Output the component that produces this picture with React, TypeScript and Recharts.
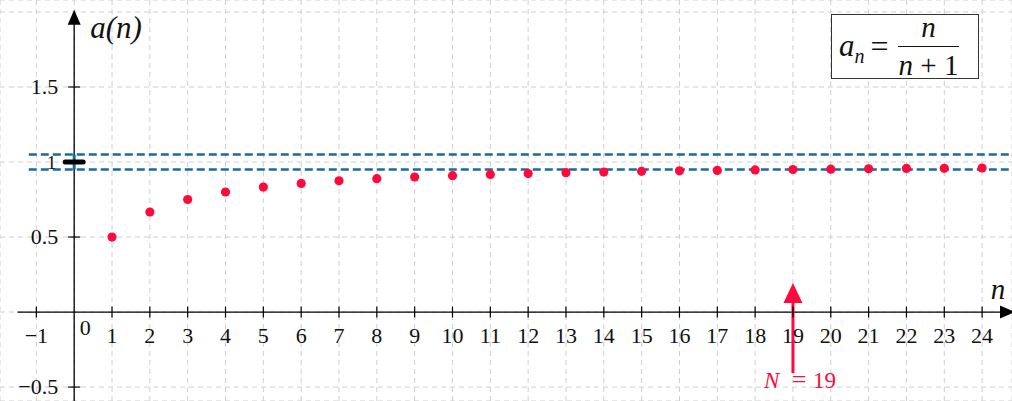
import React from 'react';
import { ScatterChart, Scatter, XAxis, YAxis, CartesianGrid, ReferenceLine } from 'recharts';

// sequence a(n) = n / (n + 1)
const nValues = [1, 2, 3, 4, 5, 6, 7, 8, 9, 10, 11, 12, 13, 14, 15, 16, 17, 18, 19, 20, 21, 22, 23, 24];
const aValues = [
  0.5, 0.667, 0.75, 0.8, 0.833, 0.857, 0.875, 0.889, 0.9, 0.909, 0.917, 0.923,
  0.929, 0.933, 0.938, 0.941, 0.944, 0.947, 0.95, 0.952, 0.955, 0.957, 0.958, 0.96,
];

const xTickValues = [-1, 1, 2, 3, 4, 5, 6, 7, 8, 9, 10, 11, 12, 13, 14, 15, 16, 17, 18, 19, 20, 21, 22, 23, 24];
const xTickLabels = ['−1', '1', '2', '3', '4', '5', '6', '7', '8', '9', '10', '11', '12', '13', '14', '15', '16', '17', '18', '19', '20', '21', '22', '23', '24'];
const yTickValues = [-0.5, 0.5, 1.5];
const yTickLabels = ['−0.5', '0.5', '1.5'];
const xGridValues = [-1, 0, 1, 2, 3, 4, 5, 6, 7, 8, 9, 10, 11, 12, 13, 14, 15, 16, 17, 18, 19, 20, 21, 22, 23, 24];
const yGridValues = [-0.5, 0, 0.5, 1, 1.5, 2];

const limitValue = 1;
const epsilon = 0.05;
const thresholdN = 19;

const X_DOMAIN: [number, number] = [-1.961, 24.79];
const Y_DOMAIN: [number, number] = [-0.593, 2.08];

const FONT = '"Liberation Serif", "DejaVu Serif", serif';
const RED = '#ff0a3c';
const BLUE = '#1a6b9c';

const points = nValues.map((n, i) => ({ x: n, y: aValues[i] }));
const xTickData = xTickValues.map((v, i) => ({ x: v, y: 0, label: xTickLabels[i] }));
const yTickData = yTickValues.map((v, i) => ({ x: 0, y: v, label: yTickLabels[i] }));

const XTick = (props: any) => {
  const { cx, cy, payload } = props;
  return (
    <g>
      <line x1={cx} x2={cx} y1={cy - 5.5} y2={cy + 5.5} stroke="#000" strokeWidth={1.2} />
      <text x={cx} y={cy + 31} textAnchor="middle" fontSize={22} fontFamily={FONT} fill="#111">
        {payload.label}
      </text>
    </g>
  );
};

const YTick = (props: any) => {
  const { cx, cy, payload } = props;
  return (
    <g>
      <line x1={cx - 6} x2={cx + 6} y1={cy} y2={cy} stroke="#000" strokeWidth={1.2} />
      <text x={cx - 16} y={cy + 7} textAnchor="end" fontSize={22} fontFamily={FONT} fill="#111">
        {payload.label}
      </text>
    </g>
  );
};

const OriginLabel = (props: any) => {
  const { cx, cy } = props;
  return (
    <text x={cx + 11} y={cy + 23} textAnchor="middle" fontSize={22} fontFamily={FONT} fill="#111">
      0
    </text>
  );
};

const LimitTick = (props: any) => {
  const { cx, cy } = props;
  return (
    <text x={cx - 18} y={cy + 7} textAnchor="end" fontSize={19} fontFamily={FONT} fill="#111">
      1
    </text>
  );
};

const LimitBar = (props: any) => {
  const { cx, cy } = props;
  return <line x1={cx - 9} x2={cx + 9} y1={cy} y2={cy} stroke="#000" strokeWidth={5} strokeLinecap="round" />;
};

const YArrow = (props: any) => {
  const { cx, cy } = props;
  return (
    <g>
      <path d={`M${cx},${cy} L${cx - 6.5},${cy + 15} L${cx + 6.5},${cy + 15} Z`} fill="#000" />
      <text x={cx + 16} y={cy + 28} fontSize={31} fontStyle="italic" fontFamily={FONT} fill="#111">
        a(n)
      </text>
    </g>
  );
};

const XArrow = (props: any) => {
  const { cx, cy } = props;
  return (
    <g>
      <path d={`M${cx},${cy} L${cx - 15},${cy - 6.5} L${cx - 15},${cy + 6.5} Z`} fill="#000" />
      <text x={cx - 17} y={cy - 13} textAnchor="middle" fontSize={29} fontStyle="italic" fontFamily={FONT} fill="#111">
        n
      </text>
    </g>
  );
};

const RedArrowHead = (props: any) => {
  const { cx, cy } = props;
  return <path d={`M${cx},${cy} L${cx - 9.5},${cy + 20} L${cx + 9.5},${cy + 20} Z`} fill={RED} />;
};

const NLabel = (props: any) => {
  const { cx, cy } = props;
  const style = { fontSize: 23, fontFamily: FONT, fill: RED };
  return (
    <g>
      <text x={cx - 29} y={cy + 1} {...style} fontStyle="italic">N</text>
      <text x={cx + 6} y={cy + 1} {...style} fontSize={26} textAnchor="middle">=</text>
      <text x={cx + 20} y={cy + 1} {...style}>{thresholdN}</text>
    </g>
  );
};

const Dot = (props: any) => {
  const { cx, cy } = props;
  return <circle cx={cx} cy={cy} r={4.6} fill={RED} />;
};

const Formula = () => (
  <div
    style={{
      position: 'absolute',
      left: 831,
      top: 14,
      width: 148,
      height: 65,
      border: '1.5px solid #333',
      background: '#fff',
      display: 'flex',
      alignItems: 'center',
      paddingLeft: 7,
      boxSizing: 'border-box',
      fontFamily: FONT,
      fontSize: 29,
      color: '#111',
    }}
  >
    <span style={{ marginTop: 2 }}>
      <i style={{ fontSize: 31 }}>a</i>
      <sub style={{ fontSize: 20, fontStyle: 'italic' }}>n</sub>
    </span>
    <span style={{ margin: '0 9px 0 6px', fontSize: 32 }}>=</span>
    <span style={{ display: 'inline-flex', flexDirection: 'column', alignItems: 'center', lineHeight: 1 }}>
      <span style={{ fontStyle: 'italic', paddingBottom: 4 }}>n</span>
      <span style={{ borderTop: '1.5px solid #111', padding: '4px 1px 0' }}>
        <i>n</i> + 1
      </span>
    </span>
  </div>
);

export default function App() {
  return (
    <div style={{ position: 'relative', width: 1012, height: 401, background: '#fff' }}>
      <style>{'body{margin:0}'}</style>
      <ScatterChart width={1012} height={401} margin={{ top: 0, right: 0, bottom: 0, left: 0 }}>
        <CartesianGrid stroke="#cfcfcf" strokeDasharray="5 4" strokeWidth={1} />
        <XAxis type="number" dataKey="x" domain={X_DOMAIN} ticks={xGridValues} allowDataOverflow hide />
        <YAxis type="number" dataKey="y" domain={Y_DOMAIN} ticks={yGridValues} allowDataOverflow hide />

        {/* axes */}
        <ReferenceLine segment={[{ x: -1.5, y: 0 }, { x: 24.6, y: 0 }]} stroke="#000" strokeWidth={1.3} ifOverflow="visible" />
        <ReferenceLine segment={[{ x: 0, y: -0.6 }, { x: 0, y: 1.95 }]} stroke="#000" strokeWidth={1.3} ifOverflow="visible" />

        {/* epsilon band around the limit */}
        <ReferenceLine segment={[{ x: -1.2, y: limitValue + epsilon }, { x: 24.79, y: limitValue + epsilon }]} stroke={BLUE} strokeWidth={2.6} strokeDasharray="8 4" ifOverflow="visible" />
        <ReferenceLine segment={[{ x: -1.2, y: limitValue - epsilon }, { x: 24.79, y: limitValue - epsilon }]} stroke={BLUE} strokeWidth={2.6} strokeDasharray="8 4" ifOverflow="visible" />
        <ReferenceLine segment={[{ x: 0, y: limitValue - epsilon }, { x: 0, y: limitValue + epsilon }]} stroke={BLUE} strokeWidth={3} ifOverflow="visible" />

        {/* N = 19 marker */}
        <ReferenceLine segment={[{ x: thresholdN, y: -0.407 }, { x: thresholdN, y: 0.07 }]} stroke={RED} strokeWidth={3} ifOverflow="visible" />

        <Scatter data={xTickData} shape={XTick} isAnimationActive={false} />
        <Scatter data={yTickData} shape={YTick} isAnimationActive={false} />
        <Scatter data={[{ x: 0, y: 0 }]} shape={OriginLabel} isAnimationActive={false} />
        <Scatter data={[{ x: 0, y: limitValue }]} shape={LimitTick} isAnimationActive={false} />
        <Scatter data={[{ x: 0, y: limitValue }]} shape={LimitBar} isAnimationActive={false} />
        <Scatter data={[{ x: 0, y: 2.015 }]} shape={YArrow} isAnimationActive={false} />
        <Scatter data={[{ x: 24.87, y: 0 }]} shape={XArrow} isAnimationActive={false} />
        <Scatter data={[{ x: thresholdN, y: 0.193 }]} shape={RedArrowHead} isAnimationActive={false} />
        <Scatter data={[{ x: thresholdN, y: -0.5 }]} shape={NLabel} isAnimationActive={false} />
        <Scatter data={points} shape={Dot} isAnimationActive={false} />
      </ScatterChart>
      <Formula />
    </div>
  );
}
